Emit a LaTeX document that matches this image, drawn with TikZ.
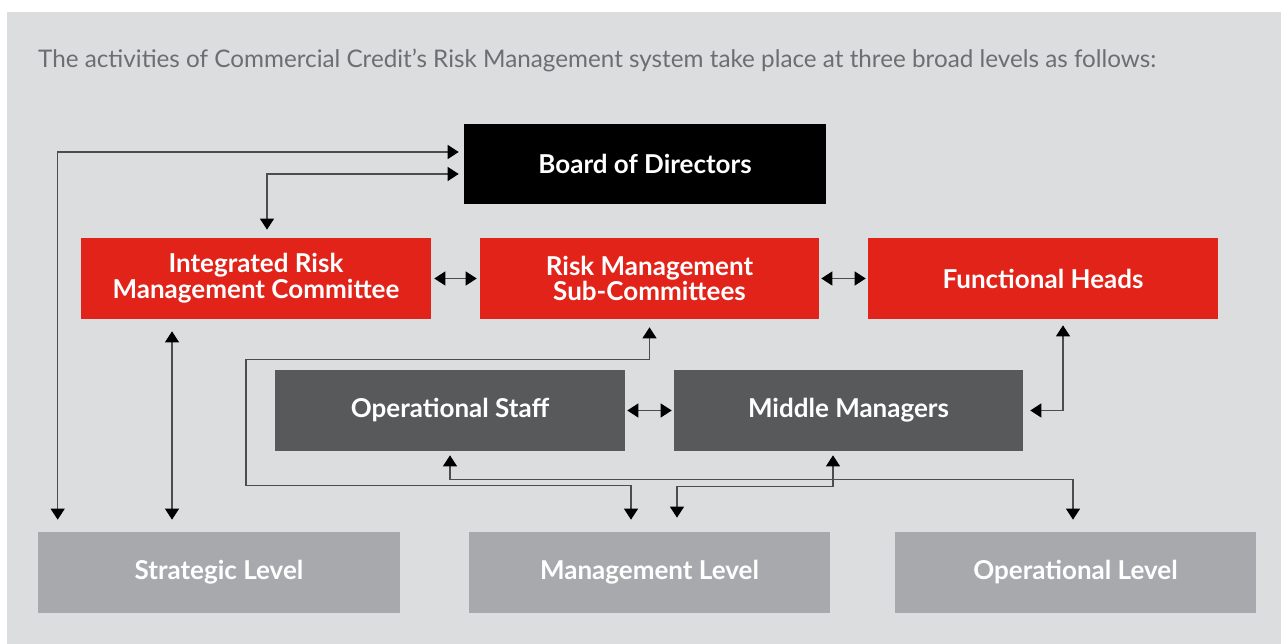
\documentclass[tikz,border=0pt]{standalone}
\usepackage{fontspec}
\setmainfont{Lato}
\usetikzlibrary{arrows.meta}
\definecolor{bgcol}{RGB}{220,221,223}
\definecolor{redbox}{RGB}{226,35,26}
\definecolor{darkbox}{RGB}{88,89,91}
\definecolor{lightbox}{RGB}{167,169,172}
\definecolor{titlecol}{RGB}{109,110,113}
\definecolor{linecol}{RGB}{77,77,79}
\tikzset{
	box/.style={inner sep=0pt, text=white, align=center, minimum height=1.62cm, font=\fontsize{14.8}{14.6}\selectfont\bfseries},
	link/.style={draw=linecol, line width=0.6pt, >={Triangle[length=0.22cm,width=0.28cm,color=black]}, <->}
}

\begin{document}
\begin{tikzpicture}[x=0.02cm,y=-0.02cm]
	\useasboundingbox (0,0) rectangle (1281,644);
	\fill[bgcol] (7,12) rectangle (1281,644);
	\node[anchor=base west, text=titlecol, font=\fontsize{13.8}{16}\selectfont] (title) at (32,68) {The activities of Commercial Credit’s Risk Management system take place at three broad levels as follows:};
	\node[box, fill=black, minimum width=7.24cm, minimum height=1.6cm] (board) at (645,164) {Board of Directors};
	\node[box, fill=redbox, minimum width=7cm] (irmc) at (256,278.5) {Integrated Risk\\Management Committee};
	\node[box, fill=redbox, minimum width=6.78cm] (rmsc) at (649.5,278.5) {Risk Management\\Sub-Committees};
	\node[box, fill=redbox, minimum width=7cm] (heads) at (1043,278.5) {Functional Heads};
	\node[box, fill=darkbox, minimum width=7cm] (staff) at (450,410.5) {Operational Staff};
	\node[box, fill=darkbox, minimum width=6.98cm] (mgrs) at (848.5,410.5) {Middle Managers};
	\node[box, fill=lightbox, minimum width=7.24cm] (strat) at (219,572.5) {Strategic Level};
	\node[box, fill=lightbox, minimum width=7.22cm] (mgmt) at (649.5,572.5) {Management Level};
	\node[box, fill=lightbox, minimum width=7.22cm] (oper) at (1075.5,572.5) {Operational Level};
	\draw[link, shorten <=0.1cm, shorten >=0.24cm] ([yshift=0.24cm]board.west) -| ([xshift=0.4cm]strat.north west);
	\draw[link, shorten <=0.1cm, shorten >=0.16cm] ([yshift=-0.2cm]board.west) -| ([xshift=0.22cm]irmc.north);
	\draw[link, shorten <=0.06cm, shorten >=0.06cm] (irmc.east) -- (rmsc.west);
	\draw[link, shorten <=0.04cm, shorten >=0.04cm] (rmsc.east) -- (heads.west);
	\draw[link, shorten <=0.24cm, shorten >=0.24cm] ([xshift=-1.68cm]irmc.south) -- ([xshift=-1.68cm]irmc.south |- strat.north);
	\draw[link, shorten <=0.04cm, shorten >=0.04cm] (staff.east) -- (mgrs.west);
	\draw[link, shorten <=0.12cm, shorten >=0.14cm] ([xshift=0.4cm]heads.south) |- (mgrs.east);
	\draw[link, shorten <=0.16cm, shorten >=0.24cm] (rmsc.south) -- ++(0,40) -| ++(-403.5,126) -| ([xshift=-0.37cm]mgmt.north);
	\draw[link, shorten <=0.08cm, shorten >=0.24cm] (staff.south) -- ++(0,28) -| ([xshift=-0.05cm]oper.north);
	\draw[link, shorten <=0.08cm, shorten >=0.28cm] ([xshift=-0.31cm]mgrs.south) -- ++(0,35) -| ([xshift=0.55cm]mgmt.north);
\end{tikzpicture}
\end{document}
